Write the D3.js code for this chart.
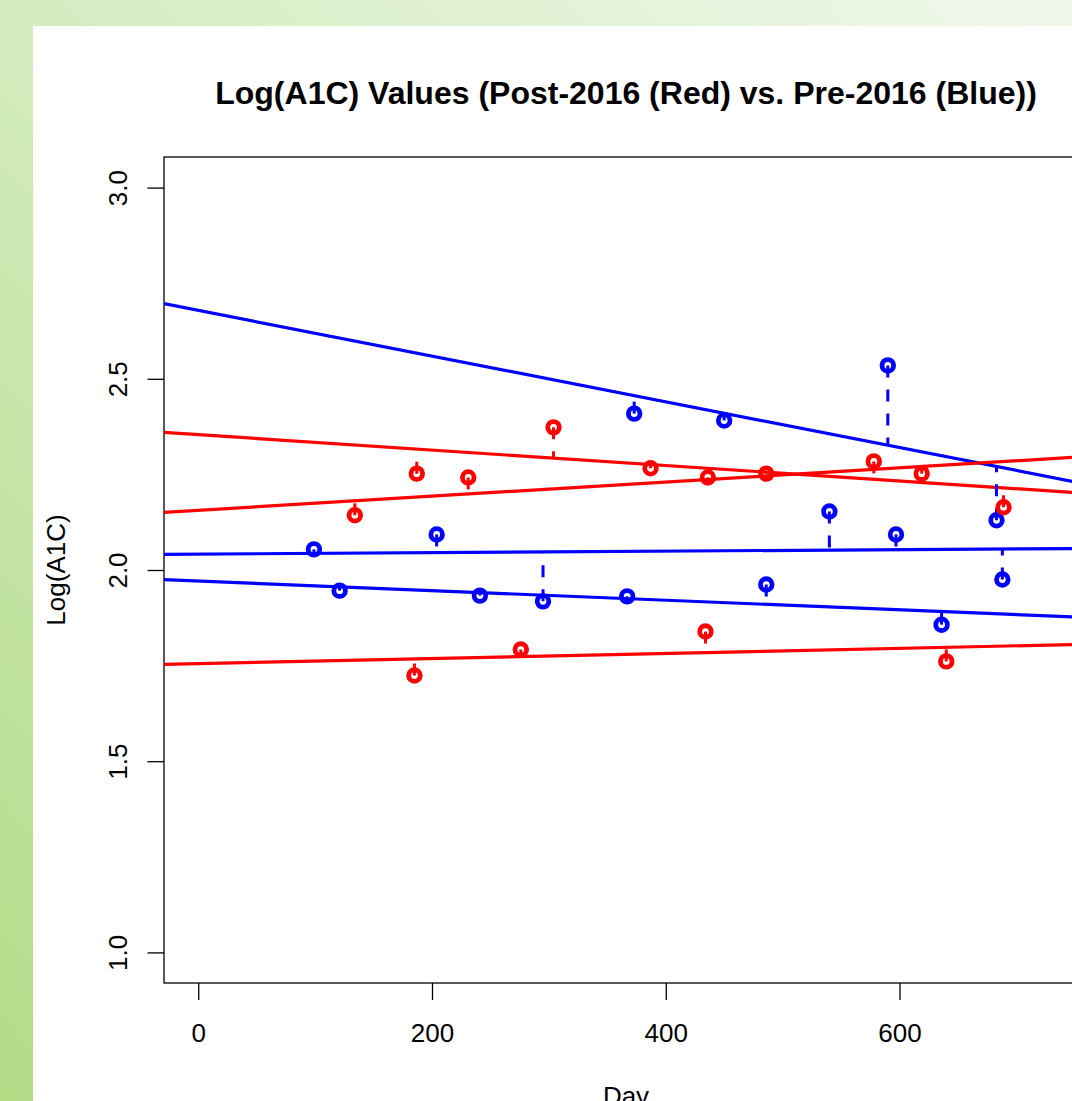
<!DOCTYPE html>
<html>
<head>
<meta charset="utf-8">
<script src="https://cdn.jsdelivr.net/npm/d3@7"></script>
<style>
  body { margin: 0; overflow: hidden; }
  text { font-family: "Liberation Sans", Arial, Helvetica, sans-serif; }
</style>
</head>
<body>
<div id="chart"></div>
<script>
        // Pre-2016 (blue) observations: day, log(A1C), fitted component
        const blueDay = [99, 121, 204, 241, 295, 367, 373, 450, 486, 540, 590, 597, 636, 683, 688];
        const blueVal = [2.054, 1.946, 2.093, 1.933, 1.918, 1.931, 2.409, 2.391, 1.962, 2.153, 2.535, 2.093, 1.857, 2.130, 1.975];
        const blueComp = [1, 2, 1, 2, 1, 2, 0, 0, 2, 1, 0, 1, 2, 0, 1];

        // Post-2016 (red) observations
        const redDay = [134, 185, 187, 231, 276, 304, 387, 434, 436, 486, 578, 619, 640, 689];
        const redVal = [2.143, 1.724, 2.252, 2.242, 1.792, 2.373, 2.266, 1.839, 2.242, 2.252, 2.284, 2.252, 1.761, 2.164];
        const redComp = [1, 2, 0, 1, 2, 0, 0, 2, 1, 0, 0, 1, 2, 0];

        // Regression lines of the three components in each group
        const blueIntercepts = [2.679, 2.0416, 1.971];
        const blueSlopes = [-0.000598, 0.0000193, -0.000125];
        const redIntercepts = [2.354, 2.156, 1.755];
        const redSlopes = [-0.000202, 0.000185, 0.0000668];

        // Axis ticks
        const xTicks = [0, 200, 400, 600];
        const yTicks = [1.0, 1.5, 2.0, 2.5, 3.0];
        const xLimits = [0, 732];
        const yLimits = [1, 3];

        const W = 1072, H = 1101;
        const box = { left: 164, right: 1088, top: 157, bottom: 983 };

        const svg = d3.select("#chart")
            .append("svg")
            .attr("width", W)
            .attr("height", H);

        // Green backdrop and white panel
        const defs = svg.append("defs");
        const grad = defs.append("linearGradient")
            .attr("id", "bg")
            .attr("x1", 0).attr("y1", 1).attr("x2", 1).attr("y2", 0);
        grad.append("stop").attr("offset", "0%").attr("stop-color", "#b2db86");
        grad.append("stop").attr("offset", "50%").attr("stop-color", "#d3ecbf");
        grad.append("stop").attr("offset", "100%").attr("stop-color", "#f1f8ec");
        svg.append("rect").attr("width", W).attr("height", H).attr("fill", "url(#bg)");
        svg.append("rect").attr("x", 33).attr("y", 26).attr("width", W).attr("height", H).attr("fill", "#fff");

        defs.append("clipPath").attr("id", "plotclip")
            .append("rect")
            .attr("x", box.left).attr("y", box.top)
            .attr("width", box.right - box.left).attr("height", box.bottom - box.top);

        // R style 4% padding around the limits
        const xPad = (xLimits[1] - xLimits[0]) * 0.04;
        const yPad = (yLimits[1] - yLimits[0]) * 0.04;
        const xScale = d3.scaleLinear()
            .domain([xLimits[0] - xPad, xLimits[1] + xPad])
            .range([box.left, box.right]);
        const yScale = d3.scaleLinear()
            .domain([yLimits[0] - yPad, yLimits[1] + yPad])
            .range([box.bottom, box.top]);

        // Axes
        const xAxis = d3.axisBottom(xScale).tickValues(xTicks).tickSize(17).tickPadding(8).tickFormat(d3.format("d"));
        const gx = svg.append("g")
            .attr("transform", `translate(0,${box.bottom})`)
            .call(xAxis);
        gx.select(".domain").remove();
        gx.selectAll(".tick line").attr("stroke", "#000").attr("stroke-width", 1.3);
        gx.selectAll(".tick text")
            .attr("font-size", 26)
            .attr("fill", "#000")
            .attr("dy", null)
            .attr("y", 59);

        const yAxis = d3.axisLeft(yScale).tickValues(yTicks).tickSize(16.5).tickFormat(d3.format(".1f"));
        const gy = svg.append("g")
            .attr("transform", `translate(${box.left},0)`)
            .call(yAxis);
        gy.select(".domain").remove();
        gy.selectAll(".tick line").attr("stroke", "#000").attr("stroke-width", 1.3);
        gy.selectAll(".tick text")
            .attr("font-size", 26)
            .attr("fill", "#000")
            .attr("x", null).attr("dy", null)
            .attr("text-anchor", "middle")
            .attr("transform", "translate(-37,0) rotate(-90)");

        // Plot box
        svg.append("rect")
            .attr("x", box.left).attr("y", box.top)
            .attr("width", box.right - box.left).attr("height", box.bottom - box.top)
            .attr("fill", "none").attr("stroke", "#000").attr("stroke-width", 1.3);

        // Titles
        const midX = (box.left + box.right) / 2;
        svg.append("text")
            .attr("x", midX).attr("y", 104)
            .attr("text-anchor", "middle")
            .attr("font-size", 32).attr("font-weight", "bold")
            .text("Log(A1C) Values (Post-2016 (Red) vs. Pre-2016 (Blue))");
        svg.append("text")
            .attr("x", midX).attr("y", 1105)
            .attr("text-anchor", "middle")
            .attr("font-size", 26)
            .text("Day");
        svg.append("text")
            .attr("transform", `translate(65,570) rotate(-90)`)
            .attr("text-anchor", "middle")
            .attr("font-size", 26)
            .text("Log(A1C)");

        const plot = svg.append("g").attr("clip-path", "url(#plotclip)");

        const groups = [
            { color: "#0000ff", day: blueDay, val: blueVal, comp: blueComp, a: blueIntercepts, b: blueSlopes },
            { color: "#ff0000", day: redDay, val: redVal, comp: redComp, a: redIntercepts, b: redSlopes }
        ];

        const x0 = xScale.domain()[0], x1 = xScale.domain()[1];

        groups.forEach(g => {
            // fitted lines across the whole plot
            plot.selectAll(null)
                .data(d3.range(g.a.length))
                .enter()
                .append("line")
                .attr("x1", xScale(x0))
                .attr("x2", xScale(x1))
                .attr("y1", k => yScale(g.a[k] + g.b[k] * x0))
                .attr("y2", k => yScale(g.a[k] + g.b[k] * x1))
                .attr("stroke", g.color)
                .attr("stroke-width", 3.2);
        });

        groups.forEach(g => {
            const pts = g.day.map((d, i) => ({ day: d, val: g.val[i], k: g.comp[i] }));

            plot.selectAll(null)
                .data(pts)
                .enter()
                .append("circle")
                .attr("cx", d => xScale(d.day))
                .attr("cy", d => yScale(d.val))
                .attr("r", 5.8)
                .attr("fill", "none")
                .attr("stroke", g.color)
                .attr("stroke-width", 4.8);

            // residuals to the assigned line
            plot.selectAll(null)
                .data(pts)
                .enter()
                .append("line")
                .attr("x1", d => xScale(d.day))
                .attr("x2", d => xScale(d.day))
                .attr("y1", d => yScale(d.val))
                .attr("y2", d => yScale(g.a[d.k] + g.b[d.k] * d.day))
                .attr("stroke", g.color)
                .attr("stroke-width", 3)
                .attr("stroke-dasharray", "12,12");
        });
</script>
</body>
</html>
